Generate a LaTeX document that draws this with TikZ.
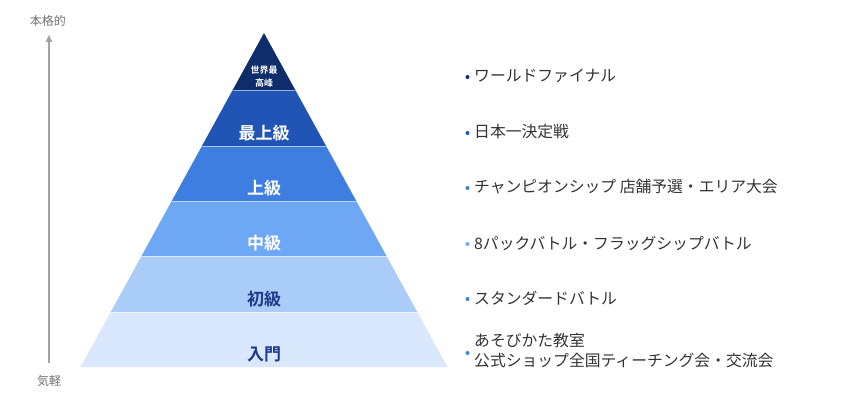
\documentclass[tikz,border=0pt]{standalone}
\usepackage{fontspec}
\setmainfont{Noto Sans CJK JP}[BoldFont={Noto Sans CJK JP Bold}]
\usepackage{tikz}
\usetikzlibrary{arrows.meta,calc,positioning}
\definecolor{tier1}{HTML}{0D2D6B}
\definecolor{tier2}{HTML}{2055B5}
\definecolor{tier3}{HTML}{3D7EE0}
\definecolor{tier4}{HTML}{6EA7F4}
\definecolor{tier5}{HTML}{A9CCF8}
\definecolor{tier6}{HTML}{DAE8FD}
\definecolor{labdark}{HTML}{1D3B8A}
\definecolor{itemtext}{HTML}{333333}
\definecolor{axisgray}{HTML}{A3A3A3}
\tikzset{
	pyramid/.style={
		x=1pt, y=-1pt,
		seam/.style={draw=white,draw opacity=.55,line width=.8pt},
		lvl/.style={font=\bfseries\fontsize{17}{17}\selectfont,text=white,inner sep=0pt},
		lvl dark/.style={lvl,text=labdark},
		peak/.style={font=\bfseries\fontsize{9}{13}\selectfont,text=white,align=center,inner sep=0pt},
		dot/.style={circle,fill=##1,minimum size=4pt,inner sep=0pt},
		item/.style={font=\fontsize{15.8}{20}\selectfont,text=itemtext,align=left,inner sep=0pt,anchor=west},
		axis/.style={draw=axisgray,line width=1.4pt,-{Triangle[length=7pt,width=6pt]}},
		axis label/.style={font=\fontsize{12}{12}\selectfont,text=black!55,inner sep=0pt}
	},
	apex x/.store in=\apexx, apex x=264,
	apex y/.store in=\apexy, apex y=33,
	base y/.store in=\basey, base y=367,
	base half/.store in=\basehalf, base half=183.5
}

\begin{document}
\begin{tikzpicture}[pyramid]
	\useasboundingbox (0,0) rectangle (860,413);
	% layers
	\foreach \ya/\yb/\col in {33/90/tier1,90/146/tier2,146/201/tier3,201/256/tier4,256/312/tier5,312/367/tier6}{
		\pgfmathsetmacro\wa{\basehalf/(\basey-\apexy)*(\ya-\apexy)}
		\pgfmathsetmacro\wb{\basehalf/(\basey-\apexy)*(\yb-\apexy)}
		\fill[\col] (\apexx-\wa,\ya) -- (\apexx+\wa,\ya) -- (\apexx+\wb,\yb) -- (\apexx-\wb,\yb) -- cycle;
	}
	\foreach \y in {90,146,201,256,312}{
		\pgfmathsetmacro\w{\basehalf/(\basey-\apexy)*(\y-\apexy)}
		\draw[seam] (\apexx-\w,\y) -- (\apexx+\w,\y);
	}
	% level names
	\node[peak] (lv1) at (\apexx,76.5) {世界最\\高峰};
	\node[lvl] (lv2) at (\apexx,133) {最上級};
	\node[lvl] (lv3) at (\apexx,188.5) {上級};
	\node[lvl] (lv4) at (\apexx,243.5) {中級};
	\node[lvl dark] (lv5) at (\apexx,299) {初級};
	\node[lvl dark] (lv6) at (\apexx,354.5) {入門};
	% events
	\foreach \y/\col/\txt [count=\i] in {76/tier1/ワールドファイナル,132/tier2/日本一決定戦,187/tier3/チャンピオンシップ 店舗予選・エリア大会,243/tier4/8パックバトル・フラッグシップバトル,298/tier3/スタンダードバトル}{
		\node[dot=\col] (b\i) at (467.5,\y+1) {};
		\node[item] (ev\i) at (474,\y) {\txt};
	}
	\node[dot=tier3] (b6) at (467.5,353) {};
	\node[item] (ev6) at (474,351) {あそびかた教室\\公式ショップ全国ティーチング会・交流会};
	% axis
	\node[axis label] (hi) at (48,21) {本格的};
	\node[axis label] (lo) at (49,381) {気軽};
	\draw[axis,shorten <=12pt,shorten >=8pt] (lo.north) -- (hi.south -| lo.north);
\end{tikzpicture}
\end{document}
